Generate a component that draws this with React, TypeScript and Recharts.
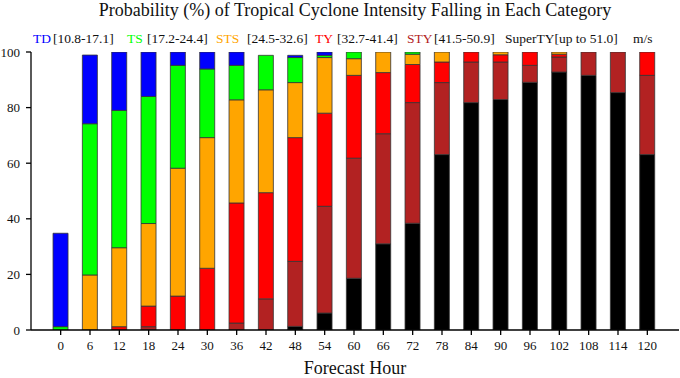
import React from "react";
import { BarChart, Bar, XAxis, YAxis } from "recharts";

const hours = ["0","6","12","18","24","30","36","42","48","54","60","66","72","78","84","90","96","102","108","114","120"];
const superTY = [0,0,0,0,0,0,0,0,1.3,6.1,18.6,31.0,38.4,63.1,81.8,82.9,89.1,92.8,91.6,85.4,63.1];
const sty =     [0,0,0,1.2,0,0,2.5,11.2,23.4,38.4,43.2,39.6,43.4,25.9,14.6,13.5,6.1,5.4,8.4,14.6,28.5];
const ty =      [0,0,1.2,7.4,12.2,22.2,43.2,38.2,44.5,33.5,29.8,22.0,13.7,7.4,3.6,2.6,4.8,1.0,0,0,8.4];
const sts =     [0,19.8,28.4,29.7,46.0,47.0,37.1,37.0,19.8,20.0,6.0,7.4,3.7,3.6,0,1.0,0,0.8,0,0,0];
const ts =      [1.2,54.4,49.4,45.7,37.0,24.7,12.4,12.4,9.0,0.8,2.4,0,0.8,0,0,0,0,0,0,0,0];
const td =      [33.6,24.7,21.0,16.0,4.8,6.1,4.8,0,0.8,1.2,0,0,0,0,0,0,0,0,0,0,0];
const yTicks = [0, 20, 40, 60, 80, 100];

const seriesNames = ["SuperTY", "STY", "TY", "STS", "TS", "TD"];
const seriesColors = ["#000000", "#b22222", "#ff0000", "#ffa500", "#00ff00", "#0000ff"];
const seriesValues = [superTY, sty, ty, sts, ts, td];

const legendItems = [
  { name: "TD", range: "[10.8-17.1]", color: "#0000ff", x: 33, rx: 53 },
  { name: "TS", range: "[17.2-24.4]", color: "#00ff00", x: 127, rx: 147 },
  { name: "STS", range: "[24.5-32.6]", color: "#ffa500", x: 216, rx: 247 },
  { name: "TY", range: "[32.7-41.4]", color: "#ff0000", x: 315, rx: 337 },
  { name: "STY", range: "[41.5-50.9]", color: "#b22222", x: 407, rx: 434 },
];

const data = hours.map((h, i) => {
  const row: Record<string, any> = { hour: h };
  seriesNames.forEach((n, k) => { row[n] = seriesValues[k][i]; });
  return row;
});

const serif = "'Liberation Serif', 'Times New Roman', Times, serif";

export default function App() {
  if (typeof document !== "undefined") document.body.style.margin = "0";
  return (
    <div style={{ position: "relative", width: 680, height: 378, background: "#fff", fontFamily: serif, overflow: "hidden" }}>
      <div style={{ position: "absolute", left: 31, top: 0, width: 648, textAlign: "center", fontSize: 18, lineHeight: "20px", color: "#111", whiteSpace: "nowrap" }}>
        Probability (%) of Tropical Cyclone Intensity Falling in Each Category
      </div>
      <div style={{ position: "absolute", left: 0, top: 31.5, width: 680, height: 14, fontSize: 13.5, lineHeight: "14px", color: "#111", whiteSpace: "nowrap" }}>
        {legendItems.map((it) => (
          <React.Fragment key={it.name}>
            <span style={{ position: "absolute", left: it.x, color: it.color }}>{it.name}</span>
            <span style={{ position: "absolute", left: it.rx }}>{it.range}</span>
          </React.Fragment>
        ))}
        <span style={{ position: "absolute", left: 505 }}>SuperTY[up to 51.0]</span>
        <span style={{ position: "absolute", left: 633 }}>m/s</span>
      </div>
      <div style={{ position: "absolute", left: 0, top: 0 }}>
        <BarChart
          width={680}
          height={378}
          data={data}
          margin={{ top: 52, right: 1, bottom: 18, left: 0 }}
          barCategoryGap="24%"
        >
          <XAxis
            dataKey="hour"
            type="category"
            padding={{ left: 15, right: 17 }}
            tickSize={5}
            tickMargin={6}
            height={30}
            axisLine={{ stroke: "#000", strokeWidth: 1.3 }}
            tickLine={{ stroke: "#000", strokeWidth: 1.3 }}
            tick={{ fill: "#111", fontSize: 13, fontFamily: serif }}
            interval={0}
          />
          <XAxis
            xAxisId="top"
            dataKey="hour"
            orientation="top"
            height={0}
            tick={false}
            tickLine={false}
            axisLine={{ stroke: "#000", strokeWidth: 1.3 }}
          />
          <YAxis
            domain={[0, 100]}
            ticks={yTicks}
            width={31}
            tickSize={5}
            tickMargin={6}
            axisLine={{ stroke: "#000", strokeWidth: 1.3 }}
            tickLine={{ stroke: "#000", strokeWidth: 1.3 }}
            tick={{ fill: "#111", fontSize: 13, fontFamily: serif }}
            allowDataOverflow
          />
          <YAxis
            yAxisId="r"
            orientation="right"
            width={0}
            domain={[0, 100]}
            tick={false}
            tickLine={false}
            axisLine={{ stroke: "#000", strokeWidth: 1.3 }}
          />
          {seriesNames.map((n, k) => (
            <Bar
              key={n}
              dataKey={n}
              stackId="a"
              fill={seriesColors[k]}
              stroke="#333"
              strokeWidth={0.8}
              isAnimationActive={false}
            />
          ))}
        </BarChart>
      </div>
      <div style={{ position: "absolute", left: 31, top: 359, width: 648, textAlign: "center", fontSize: 18, lineHeight: "18px", color: "#111" }}>
        Forecast Hour
      </div>
    </div>
  );
}
